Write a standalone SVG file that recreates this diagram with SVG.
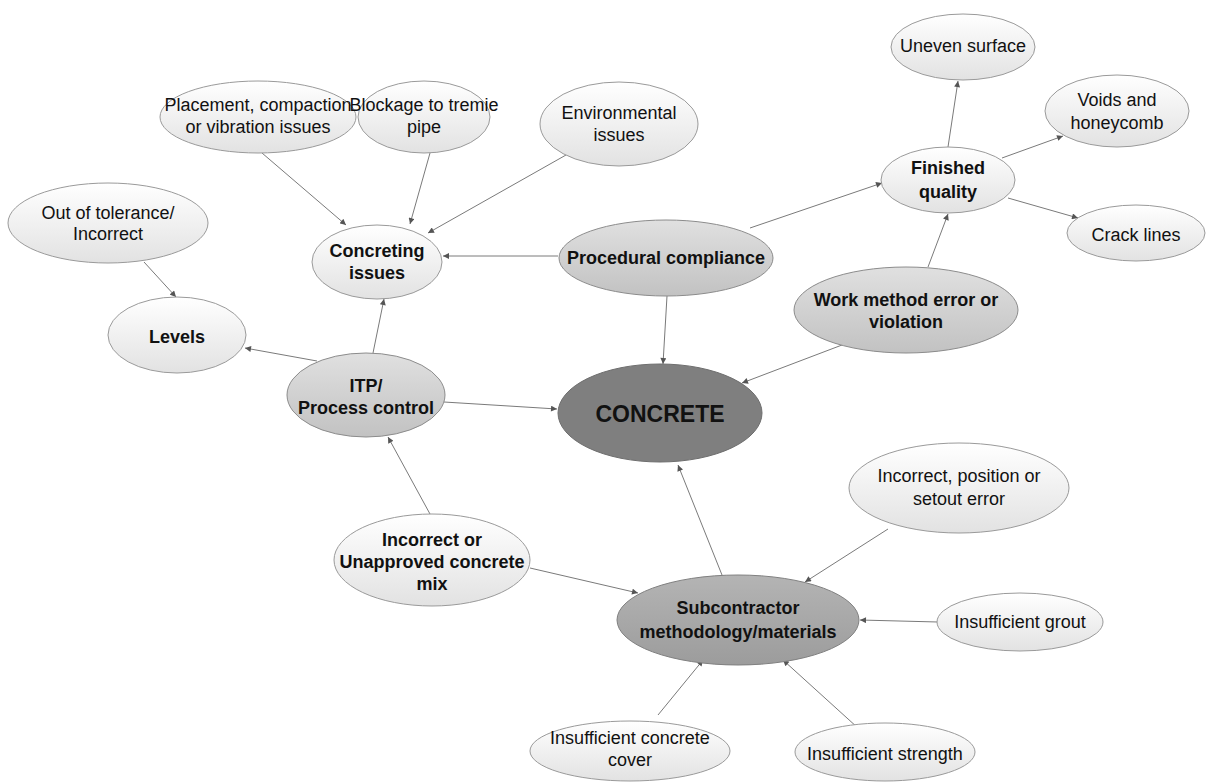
<svg xmlns="http://www.w3.org/2000/svg" width="1211" height="783" viewBox="0 0 1211 783">
<defs>
<linearGradient id="gLight" x1="0" y1="0" x2="0" y2="1">
<stop offset="0" stop-color="#ffffff"/><stop offset="1" stop-color="#e2e2e2"/>
</linearGradient>
<linearGradient id="gMid" x1="0" y1="0" x2="0" y2="1">
<stop offset="0" stop-color="#e0e0e0"/><stop offset="1" stop-color="#c2c2c2"/>
</linearGradient>
<linearGradient id="gSub" x1="0" y1="0" x2="0" y2="1">
<stop offset="0" stop-color="#b4b4b4"/><stop offset="1" stop-color="#9c9c9c"/>
</linearGradient>
<marker id="arr" viewBox="0 0 10 10" refX="10" refY="5" markerWidth="7" markerHeight="6" markerUnits="userSpaceOnUse" orient="auto">
<path d="M0,0 L10,5 L0,10 z" fill="#555555"/>
</marker>
<style>
.l{fill:url(#gLight);stroke:#9a9a9a;stroke-width:1}
.m{fill:url(#gMid);stroke:#8c8c8c;stroke-width:1}
.s{fill:url(#gSub);stroke:#808080;stroke-width:1}
.c{fill:#7f7f7f;stroke:#6e6e6e;stroke-width:1}
text{font-family:"Liberation Sans",Arial,sans-serif;font-size:18px;fill:#111;text-anchor:middle}
.b{font-weight:bold}
.e line{stroke:#7a7a7a;stroke-width:1;marker-end:url(#arr)}
</style>
</defs>
<rect width="1211" height="783" fill="#ffffff"/>
<g class="e" id="connectors">
<line x1="262" y1="153" x2="346" y2="225"/>
<line x1="430" y1="153" x2="410" y2="224"/>
<line x1="566" y1="155" x2="428" y2="233"/>
<line x1="558" y1="256" x2="443" y2="256"/>
<line x1="750" y1="228" x2="882" y2="183"/>
<line x1="667" y1="296" x2="663" y2="364"/>
<line x1="948" y1="147" x2="958" y2="81"/>
<line x1="1002" y1="158" x2="1063" y2="136"/>
<line x1="1008" y1="198" x2="1078" y2="218"/>
<line x1="928" y1="267" x2="948" y2="214"/>
<line x1="842" y1="345" x2="742" y2="383"/>
<line x1="373" y1="353" x2="384" y2="299"/>
<line x1="317" y1="361" x2="245" y2="348"/>
<line x1="444" y1="402" x2="557" y2="409"/>
<line x1="144" y1="262" x2="176" y2="297"/>
<line x1="430" y1="514" x2="388" y2="437"/>
<line x1="530" y1="568" x2="638" y2="593"/>
<line x1="722" y1="575" x2="678" y2="465"/>
<line x1="888" y1="529" x2="805" y2="582"/>
<line x1="938" y1="622" x2="860" y2="620"/>
<line x1="658" y1="715" x2="703" y2="660"/>
<line x1="858" y1="728" x2="783" y2="660"/>
</g>
<g id="uneven"><ellipse class="l" cx="963" cy="47" rx="72" ry="33"/><text x="963" y="52">Uneven surface</text></g>
<g id="voids"><ellipse class="l" cx="1117" cy="111" rx="72" ry="36"/><text x="1117" y="106">Voids and</text><text x="1117" y="129">honeycomb</text></g>
<g id="finished"><ellipse class="l" cx="948" cy="180" rx="67" ry="33"/><text class="b" x="948" y="174">Finished</text><text class="b" x="948" y="198">quality</text></g>
<g id="crack"><ellipse class="l" cx="1136" cy="233" rx="69" ry="28"/><text x="1136" y="241">Crack lines</text></g>
<g id="workmethod"><ellipse class="m" cx="906" cy="310" rx="112" ry="43"/><text class="b" x="906" y="306">Work method error or</text><text class="b" x="906" y="328">violation</text></g>
<g id="procedural"><ellipse class="m" cx="666" cy="258" rx="107" ry="38"/><text class="b" x="666" y="264">Procedural compliance</text></g>
<g id="concreting"><ellipse class="l" cx="377" cy="262" rx="65" ry="37"/><text class="b" x="377" y="257">Concreting</text><text class="b" x="377" y="279">issues</text></g>
<g id="placement"><ellipse class="l" cx="258" cy="117" rx="98" ry="36"/><text x="258" y="111">Placement, compaction</text><text x="258" y="133">or vibration issues</text></g>
<g id="blockage"><ellipse class="l" cx="424" cy="117" rx="66" ry="36"/><text x="424" y="111">Blockage to tremie</text><text x="424" y="133">pipe</text></g>
<g id="environmental"><ellipse class="l" cx="619" cy="124" rx="79" ry="42"/><text x="619" y="119">Environmental</text><text x="619" y="141">issues</text></g>
<g id="tolerance"><ellipse class="l" cx="108" cy="223" rx="100" ry="40"/><text x="108" y="219">Out of tolerance/</text><text x="108" y="240">Incorrect</text></g>
<g id="levels"><ellipse class="l" cx="177" cy="335" rx="69" ry="38"/><text class="b" x="177" y="343">Levels</text></g>
<g id="itp"><ellipse class="m" cx="366" cy="395" rx="79" ry="42"/><text class="b" x="366" y="392">ITP/</text><text class="b" x="366" y="414">Process control</text></g>
<g id="concrete"><ellipse class="c" cx="660" cy="413" rx="102" ry="49"/><text class="b" x="660" y="422" style="font-size:23px">CONCRETE</text></g>
<g id="mix"><ellipse class="l" cx="432" cy="560" rx="98" ry="46"/><text class="b" x="432" y="546">Incorrect or</text><text class="b" x="432" y="568">Unapproved concrete</text><text class="b" x="432" y="590">mix</text></g>
<g id="subcontractor"><ellipse class="s" cx="738" cy="620" rx="121" ry="45"/><text class="b" x="738" y="614">Subcontractor</text><text class="b" x="738" y="638">methodology/materials</text></g>
<g id="position"><ellipse class="l" cx="959" cy="488" rx="110" ry="45"/><text x="959" y="482">Incorrect, position or</text><text x="959" y="505">setout error</text></g>
<g id="grout"><ellipse class="l" cx="1020" cy="622" rx="83" ry="29"/><text x="1020" y="628">Insufficient grout</text></g>
<g id="cover"><ellipse class="l" cx="630" cy="751" rx="100" ry="30"/><text x="630" y="744">Insufficient concrete</text><text x="630" y="766">cover</text></g>
<g id="strength"><ellipse class="l" cx="885" cy="752" rx="90" ry="29"/><text x="885" y="760">Insufficient strength</text></g>
</svg>
